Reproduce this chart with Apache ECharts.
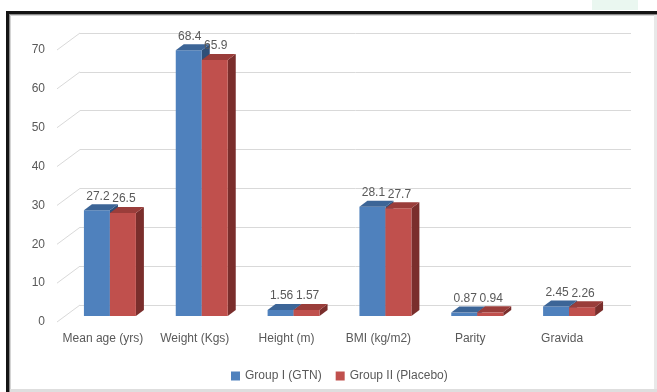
<!DOCTYPE html>
<html>
<head>
<meta charset="utf-8">
<script src="https://cdn.jsdelivr.net/npm/echarts@6/dist/echarts.min.js"></script>
<style>
html,body{margin:0;padding:0;background:#fff;}
#chart{width:657px;height:392px;}
</style>
</head>
<body>
<div id="chart"></div>
<script>
const categories = ['Mean age (yrs)', 'Weight (Kgs)', 'Height (m)', 'BMI (kg/m2)', 'Parity', 'Gravida'];
const groupI = [27.2, 68.4, 1.56, 28.1, 0.87, 2.45];
const groupII = [26.5, 65.9, 1.57, 27.7, 0.94, 2.26];
const labelsI = ['27.2', '68.4', '1.56', '28.1', '0.87', '2.45'];
const labelsII = ['26.5', '65.9', '1.57', '27.7', '0.94', '2.26'];
const yTicks = [0, 10, 20, 30, 40, 50, 60, 70];
const seriesNames = ['Group I (GTN)', 'Group II (Placebo)'];

const FONT = 'Liberation Sans';
const TXT = '#595959';
// 3D offsets (styling)
const FRONT_DX = -16, FRONT_DY = 11;   // bar front face vs back wall
const DEPTH_DX = 8, DEPTH_DY = -6;     // bar depth
const DIAG_DX = -23, DIAG_DY = 17;     // wall to front floor edge

const colors = [
  {front: '#4f81bd', top: '#3c6597', side: '#2f4f78'},
  {front: '#c0504d', top: '#9a3d3a', side: '#7a2e2c'}
];

function makeBarRender(k, labels) {
  return function (params, api) {
    const i = api.value(0), v = api.value(1);
    const top = api.coord([i, v]);
    const base = api.coord([i, 0]);
    const bw = api.size([1, 0])[0] * 0.283;
    const cx = top[0] + FRONT_DX;
    const x0 = k === 0 ? cx - bw : cx;
    const x1 = x0 + bw;
    const yt = top[1] + FRONT_DY;
    const yb = base[1] + FRONT_DY;
    const c = colors[k];
    return {
      type: 'group',
      children: [
        {type: 'polygon', shape: {points: [[x1, yb], [x1 + DEPTH_DX, yb + DEPTH_DY], [x1 + DEPTH_DX, yt + DEPTH_DY], [x1, yt]]}, style: {fill: c.side}},
        {type: 'rect', shape: {x: x0, y: yt, width: bw, height: yb - yt}, style: {fill: c.front}},
        {type: 'polygon', shape: {points: [[x0, yt], [x0 + DEPTH_DX, yt + DEPTH_DY], [x1 + DEPTH_DX, yt + DEPTH_DY], [x1, yt]]}, style: {fill: c.top}},
        {type: 'text', style: {text: labels[i], x: (x0 + x1) / 2 + 1, y: yt - 14, textAlign: 'center', textVerticalAlign: 'middle', fill: TXT, font: '12px "' + FONT + '"'}, z2: 10}
      ]
    };
  };
}

const chart = echarts.init(document.getElementById('chart'), null, {renderer: 'canvas'});
chart.setOption({
  backgroundColor: '#ffffff',
  animation: false,
  textStyle: {fontFamily: FONT},
  grid: [
    {left: 80, right: 26, top: 33, bottom: 87},   // back wall
    {left: 57, right: 49, top: 50, bottom: 70}    // front edge (labels)
  ],
  xAxis: [
    {type: 'category', gridIndex: 0, data: categories, show: false},
    {type: 'category', gridIndex: 1, data: categories,
      axisLine: {show: false}, axisTick: {show: false},
      axisLabel: {color: TXT, fontSize: 12, fontFamily: FONT, margin: 11, interval: 0}}
  ],
  yAxis: [
    {type: 'value', gridIndex: 0, min: 0, max: 70, interval: 10,
      axisLabel: {show: false}, axisLine: {show: false}, axisTick: {show: false},
      splitLine: {lineStyle: {color: '#d9d9d9', width: 1}}},
    {type: 'value', gridIndex: 1, min: 0, max: 70, interval: 10,
      axisLabel: {color: TXT, fontSize: 12, fontFamily: FONT, margin: 12},
      axisLine: {show: false}, axisTick: {show: false}, splitLine: {show: false}}
  ],
  legend: {
    data: seriesNames, left: 226, top: 365, icon: 'rect', itemWidth: 9, itemHeight: 9, itemGap: 14,
    textStyle: {color: TXT, fontSize: 12, fontFamily: FONT}
  },
  graphic: [
    {type: 'rect', shape: {x: 592, y: 0, width: 46, height: 10}, style: {fill: '#eaf7f0'}, silent: true},
    {type: 'rect', shape: {x: 6, y: 11, width: 651, height: 3}, style: {fill: '#141414'}},
    {type: 'rect', shape: {x: 6, y: 14, width: 651, height: 1}, style: {fill: '#8a8a8a'}},
    {type: 'rect', shape: {x: 6, y: 15, width: 651, height: 1}, style: {fill: '#d4d4d4'}},
    {type: 'rect', shape: {x: 6, y: 11, width: 3, height: 381}, style: {fill: '#141414'}},
    {type: 'rect', shape: {x: 9, y: 14, width: 1, height: 378}, style: {fill: '#8a8a8a'}},
    {type: 'rect', shape: {x: 10, y: 15, width: 1, height: 377}, style: {fill: '#d4d4d4'}},
    {type: 'rect', shape: {x: 654, y: 15, width: 3, height: 377}, style: {fill: '#e8e8e8'}},
    {type: 'rect', shape: {x: 10, y: 389, width: 647, height: 3}, style: {fill: '#dedede'}}
  ],
  series: [
    {
      type: 'custom', name: 'diag', xAxisIndex: 0, yAxisIndex: 0,
      data: yTicks.map(t => [0, t]), silent: true, legendHoverLink: false,
      renderItem: function (params, api) {
        const p = api.coord([0, api.value(1)]);
        const x = params.coordSys.x;
        return {type: 'line', shape: {x1: x, y1: p[1], x2: x + DIAG_DX, y2: p[1] + DIAG_DY}, style: {stroke: '#d9d9d9', lineWidth: 1}};
      },
      z: 1
    },
    {
      type: 'custom', name: seriesNames[0], xAxisIndex: 0, yAxisIndex: 0,
      itemStyle: {color: colors[0].front},
      data: groupI.map((v, i) => [i, v]),
      renderItem: makeBarRender(0, labelsI), z: 2
    },
    {
      type: 'custom', name: seriesNames[1], xAxisIndex: 0, yAxisIndex: 0,
      itemStyle: {color: colors[1].front},
      data: groupII.map((v, i) => [i, v]),
      renderItem: makeBarRender(1, labelsII), z: 3
    }
  ]
});
</script>
</body>
</html>
